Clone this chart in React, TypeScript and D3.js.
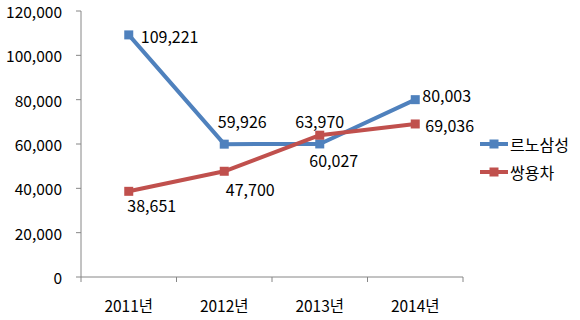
import React from "react";
import * as d3 from "d3";

const categories = ["2011년", "2012년", "2013년", "2014년"];
const seriesNames = ["르노삼성", "쌍용차"];
const renault = [109221, 59926, 60027, 80003];
const ssangyong = [38651, 47700, 63970, 69036];
const yTicks = [0, 20000, 40000, 60000, 80000, 100000, 120000];
const colors = ["#4F81BD", "#C0504D"];
// label offsets relative to point (dx, dy to text center), anchor
const renaultLabelOffsets: [number, number, string][] = [
  [12, 1, "start"],
  [18, -23, "middle"],
  [14, 16, "middle"],
  [7, -5, "start"],
];
const ssangyongLabelOffsets: [number, number, string][] = [
  [23, 14, "middle"],
  [26, 18, "middle"],
  [0, -14, "middle"],
  [10, 1, "start"],
];

export default function App() {
  const W = 580, H = 320;
  const left = 81, right = 463, top = 11, bottom = 277;
  const x = d3.scaleBand<string>().domain(categories).range([left, right]);
  const y = d3.scaleLinear().domain([0, 120000]).range([bottom, top]);
  const cx = (c: string) => (x(c) as number) + x.bandwidth() / 2;
  const fmt = d3.format(",");
  const font = "'Noto Sans CJK KR', 'Noto Sans', sans-serif";
  const line = d3
    .line<number>()
    .x((_, i) => cx(categories[i]))
    .y((d) => y(d));
  const series = [
    { name: seriesNames[0], data: renault, color: colors[0], offs: renaultLabelOffsets },
    { name: seriesNames[1], data: ssangyong, color: colors[1], offs: ssangyongLabelOffsets },
  ];
  const ms = 9;
  return (
    <svg
      width={W}
      height={H}
      style={{ position: "absolute", left: 0, top: 0, background: "#fff" }}
      fontFamily={font}
    >
      <rect width={W} height={H} fill="#fff" />
      {/* y axis */}
      <line x1={left} x2={left} y1={top} y2={bottom} stroke="#868686" strokeWidth={1} />
      {yTicks.map((t) => (
        <g key={t}>
          <line x1={left - 5} x2={left} y1={y(t)} y2={y(t)} stroke="#868686" />
          <text
            x={left - 19}
            y={y(t)}
            textAnchor="end"
            dominantBaseline="central"
            fontSize={15.5}
            fill="#000"
          >
            {fmt(t)}
          </text>
        </g>
      ))}
      {/* x axis */}
      <line x1={left} x2={right} y1={bottom} y2={bottom} stroke="#868686" />
      {categories.map((c, i) => (
        <g key={c}>
          <line
            x1={(x(c) as number) + x.bandwidth()}
            x2={(x(c) as number) + x.bandwidth()}
            y1={bottom}
            y2={bottom + 5}
            stroke="#868686"
          />
          {i === 0 && (
            <line x1={left} x2={left} y1={bottom} y2={bottom + 5} stroke="#868686" />
          )}
          <text
            x={cx(c)}
            y={bottom + 28}
            textAnchor="middle"
            dominantBaseline="central"
            fontSize={15.5}
            fill="#000"
          >
            {c}
          </text>
        </g>
      ))}
      {series.map((s) => (
        <g key={s.name}>
          <path d={line(s.data) || ""} fill="none" stroke={s.color} strokeWidth={4} strokeLinejoin="round" />
          {s.data.map((v, i) => (
            <rect
              key={i}
              x={cx(categories[i]) - ms / 2}
              y={y(v) - ms / 2}
              width={ms}
              height={ms}
              fill={s.color}
            />
          ))}
        </g>
      ))}
      {series.map((s) =>
        s.data.map((v, i) => (
          <text
            key={s.name + i}
            x={cx(categories[i]) + s.offs[i][0]}
            y={y(v) + s.offs[i][1]}
            textAnchor={s.offs[i][2] as any}
            dominantBaseline="central"
            fontSize={16}
            fill="#000"
          >
            {fmt(v)}
          </text>
        ))
      )}
      {/* legend */}
      {series.map((s, i) => {
        const ly = 144 + i * 28;
        return (
          <g key={"lg" + s.name}>
            <line x1={480} x2={508} y1={ly} y2={ly} stroke={s.color} strokeWidth={4} />
            <rect x={494 - ms / 2} y={ly - ms / 2} width={ms} height={ms} fill={s.color} />
            <text x={510} y={ly} dominantBaseline="central" fontSize={16} fill="#000">
              {s.name}
            </text>
          </g>
        );
      })}
    </svg>
  );
}
